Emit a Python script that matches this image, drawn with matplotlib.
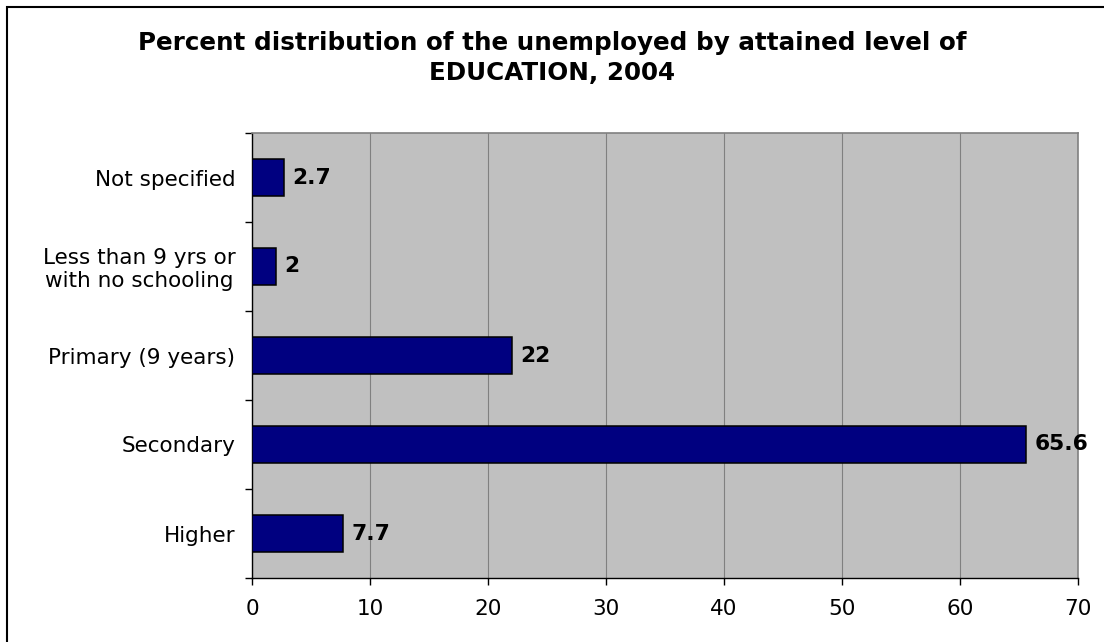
import numpy as np
import matplotlib.pyplot as plt
from matplotlib.patches import Rectangle

# data, bottom to top as drawn
categories = ["Higher", "Secondary", "Primary (9 years)",
              "Less than 9 yrs or\nwith no schooling", "Not specified"]
values = [7.7, 65.6, 22, 2, 2.7]
value_labels = ["7.7", "65.6", "22", "2", "2.7"]
x_ticks = [0, 10, 20, 30, 40, 50, 60, 70]

plt.rcParams['font.family'] = ['DejaVu Sans']

fig = plt.figure(figsize=(11.04, 6.42), dpi=100)
ax = fig.add_axes([252/1104, 1-578/642, (1078-252)/1104, (578-133)/642])

# border around the chart (cut off on right and bottom like the original)
fig.patches.append(Rectangle((7/1104, -0.1), 1.2, 1-7/642+0.1, transform=fig.transFigure,
                             fill=False, edgecolor="black", linewidth=1.5))

y = np.arange(len(categories))
ax.set_facecolor("#C0C0C0")
ax.barh(y, values, height=0.41, color="#000080", edgecolor="black", linewidth=1.1, zorder=3)

for yi, v, lab in zip(y, values, value_labels):
    ax.text(v + 0.75, yi, lab, va="center", ha="left", fontsize=15.7, fontweight="bold")

ax.set_xlim(0, 70)
ax.set_ylim(-0.5, len(categories) - 0.5)
ax.set_xticks(x_ticks)
ax.tick_params(axis="x", length=5, width=1, labelsize=15.5, pad=10, direction="out")
ax.set_yticks(y)
ax.set_yticklabels(categories, multialignment="center", linespacing=1.15)
ax.set_yticks(np.arange(-0.5, len(categories)), minor=True)
ax.tick_params(axis="y", which="major", length=0, labelsize=15.5, pad=12)
ax.tick_params(axis="y", which="minor", length=5, width=1, direction="out")

ax.grid(axis="x", color="#808080", linewidth=0.8, zorder=1)
ax.set_axisbelow(True)
for s in ["top", "right"]:
    ax.spines[s].set_color("#808080")
    ax.spines[s].set_linewidth(1.2)
ax.spines["left"].set_linewidth(1)
ax.spines["bottom"].set_linewidth(1)

fig.suptitle("Percent distribution of the unemployed by attained level of\nEDUCATION, 2004",
             x=0.5, y=1-31/642, va="top", fontsize=17.7, fontweight="bold", linespacing=1.3)

fig.savefig("out.png", dpi=100)
